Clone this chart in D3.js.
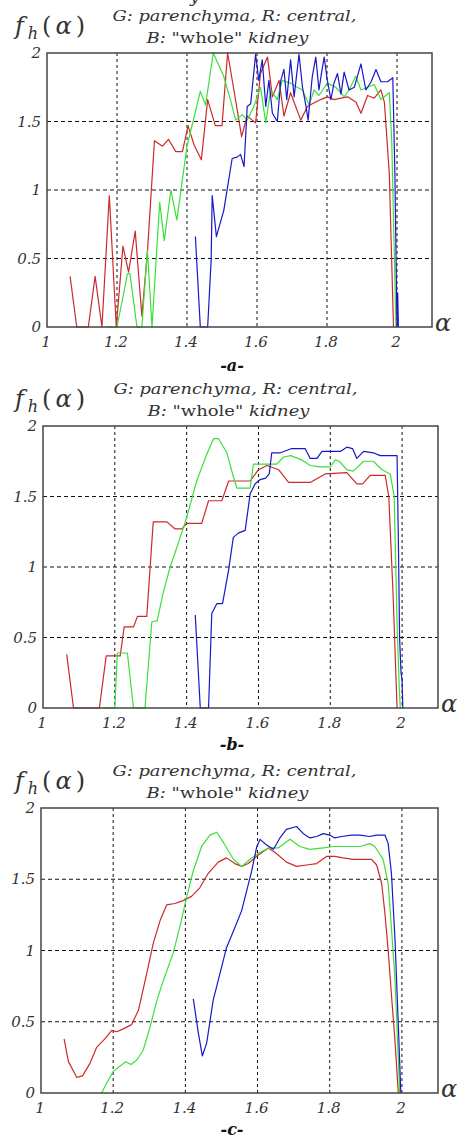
<!DOCTYPE html>
<html><head><meta charset="utf-8">
<script src="https://cdn.jsdelivr.net/npm/d3@7"></script>
<style>body{margin:0;background:#fff}svg{display:block}</style>
</head><body>
<script>
// ---------- data ----------
const xTicks = [1, 1.2, 1.4, 1.6, 1.8, 2];
const yTicks = [0, 0.5, 1, 1.5, 2];
const xGrid = [1.2, 1.4, 1.6, 1.8, 2];
const yGrid = [0.5, 1, 1.5];
const titleLine1 = "G: parenchyma, R: central,";
const panelLabels = ["-a-", "-b-", "-c-"];

// panel a
const redA = [[1.066,0.37],[1.085,0],[1.118,0],[1.1375,0.37],[1.157,0],[1.178,0.96],[1.198,0],[1.217,0.59],[1.233,0.40],[1.252,0.70],[1.271,0.08],[1.287,0.55],[1.307,1.36],[1.33,1.32],[1.347,1.37],[1.368,1.28],[1.387,1.28],[1.403,1.47],[1.42,1.33],[1.441,1.22],[1.459,1.66],[1.481,1.47],[1.50,1.47],[1.516,2.0],[1.534,1.73],[1.556,1.39],[1.572,1.54],[1.596,1.49],[1.61,1.85],[1.63,1.97],[1.644,1.68],[1.663,1.80],[1.677,1.54],[1.696,1.71],[1.725,1.51],[1.744,1.61],[1.758,1.63],[1.782,1.66],[1.801,1.68],[1.82,1.66],[1.84,1.67],[1.859,1.68],[1.883,1.64],[1.897,1.56],[1.916,1.69],[1.935,1.67],[1.954,1.73],[1.964,1.64],[1.978,1.12],[1.99,0]];
const greenA = [[1.171,0],[1.20,0],[1.23,0.39],[1.237,0.39],[1.257,0],[1.271,0],[1.287,0.56],[1.30,0],[1.322,0.91],[1.335,0.63],[1.354,1.0],[1.371,0.78],[1.40,1.32],[1.438,1.72],[1.453,1.62],[1.475,2.0],[1.505,1.83],[1.524,1.66],[1.539,1.51],[1.558,1.55],[1.572,1.51],[1.591,1.61],[1.61,1.75],[1.625,1.49],[1.639,1.73],[1.658,1.66],[1.672,1.80],[1.696,1.78],[1.715,1.75],[1.73,1.73],[1.749,1.62],[1.763,1.73],[1.777,1.69],[1.801,1.78],[1.825,1.75],[1.849,1.68],[1.863,1.73],[1.882,1.83],[1.897,1.73],[1.916,1.75],[1.935,1.77],[1.954,1.66],[1.978,1.71],[1.985,1.36],[1.997,0]];
const blueA = [[1.424,0.66],[1.438,0],[1.459,0],[1.469,0.49],[1.472,0.96],[1.484,0.66],[1.505,0.85],[1.529,1.23],[1.543,1.24],[1.553,1.26],[1.563,1.17],[1.572,1.61],[1.582,1.63],[1.596,1.99],[1.605,1.80],[1.615,1.95],[1.625,1.61],[1.634,1.80],[1.644,1.56],[1.658,1.50],[1.668,1.80],[1.677,1.88],[1.685,1.66],[1.696,1.95],[1.706,1.68],[1.72,1.99],[1.73,1.75],[1.74,1.61],[1.746,1.51],[1.758,1.83],[1.768,1.97],[1.777,1.73],[1.784,1.85],[1.792,1.97],[1.801,1.80],[1.811,1.66],[1.82,1.78],[1.83,1.85],[1.84,1.70],[1.849,1.86],[1.863,1.73],[1.878,1.75],[1.897,1.92],[1.911,1.73],[1.926,1.79],[1.94,1.88],[1.954,1.79],[1.973,1.79],[1.988,1.82],[1.994,1.12],[2.0,0],[2.002,0.25],[2.004,0]];

// panel b
const redB = [[1.066,0.38],[1.085,0],[1.157,0],[1.176,0.37],[1.215,0.37],[1.226,0.575],[1.252,0.575],[1.263,0.65],[1.289,0.65],[1.307,1.32],[1.345,1.32],[1.368,1.27],[1.387,1.27],[1.40,1.31],[1.442,1.31],[1.461,1.47],[1.498,1.47],[1.517,1.61],[1.577,1.61],[1.60,1.69],[1.624,1.72],[1.656,1.69],[1.684,1.60],[1.744,1.60],[1.786,1.66],[1.846,1.67],[1.874,1.59],[1.89,1.59],[1.911,1.65],[1.953,1.65],[1.963,1.50],[1.975,0.8],[1.986,0]];
const greenB = [[1.168,0],[1.20,0],[1.207,0.39],[1.235,0.39],[1.252,0],[1.284,0],[1.303,0.61],[1.318,0.62],[1.335,0.82],[1.354,1.0],[1.373,1.14],[1.40,1.35],[1.428,1.61],[1.456,1.80],[1.475,1.91],[1.489,1.91],[1.512,1.81],[1.53,1.64],[1.54,1.56],[1.577,1.56],[1.586,1.73],[1.651,1.73],[1.67,1.78],[1.69,1.79],[1.72,1.76],[1.744,1.72],[1.77,1.71],[1.80,1.71],[1.814,1.76],[1.825,1.75],[1.846,1.69],[1.864,1.68],[1.893,1.75],[1.92,1.75],[1.944,1.69],[1.967,1.66],[1.978,1.5],[1.986,0.6],[1.992,0.15],[1.995,0]];
const blueB = [[1.424,0.66],[1.438,0],[1.461,0],[1.47,0.67],[1.484,0.74],[1.50,0.74],[1.517,0.98],[1.53,1.21],[1.544,1.24],[1.563,1.26],[1.577,1.52],[1.591,1.59],[1.605,1.62],[1.62,1.63],[1.63,1.66],[1.637,1.81],[1.661,1.81],[1.693,1.84],[1.73,1.84],[1.744,1.77],[1.763,1.77],[1.777,1.82],[1.828,1.82],[1.846,1.85],[1.862,1.84],[1.874,1.77],[1.893,1.82],[1.92,1.81],[1.939,1.79],[1.986,1.79],[1.99,1.12],[1.993,0.5],[1.997,0.25],[2.0,0.2],[2.002,0]];

// panel c
const redC = [[1.064,0.38],[1.076,0.22],[1.099,0.11],[1.115,0.12],[1.136,0.21],[1.154,0.32],[1.177,0.38],[1.196,0.44],[1.21,0.43],[1.228,0.45],[1.251,0.48],[1.27,0.58],[1.293,0.84],[1.311,1.05],[1.33,1.21],[1.348,1.32],[1.371,1.33],[1.394,1.35],[1.417,1.38],[1.44,1.44],[1.463,1.54],[1.491,1.62],[1.514,1.65],[1.537,1.61],[1.556,1.59],[1.574,1.61],[1.602,1.67],[1.63,1.72],[1.648,1.69],[1.68,1.62],[1.708,1.59],[1.736,1.60],[1.764,1.61],[1.791,1.66],[1.814,1.66],[1.837,1.65],[1.865,1.64],[1.89,1.64],[1.916,1.64],[1.93,1.60],[1.944,1.47],[1.953,1.26],[1.962,1.0],[1.971,0.69],[1.981,0.36],[1.99,0]];
const greenC = [[1.168,0],[1.182,0.07],[1.20,0.15],[1.219,0.19],[1.235,0.22],[1.249,0.20],[1.265,0.23],[1.283,0.30],[1.302,0.46],[1.321,0.65],[1.339,0.79],[1.366,0.98],[1.385,1.17],[1.404,1.38],[1.422,1.56],[1.445,1.73],[1.468,1.81],[1.487,1.83],[1.505,1.76],[1.533,1.64],[1.556,1.59],[1.579,1.64],[1.607,1.69],[1.634,1.72],[1.657,1.72],[1.69,1.78],[1.717,1.73],[1.745,1.71],[1.782,1.72],[1.81,1.73],[1.85,1.73],[1.884,1.73],[1.911,1.75],[1.925,1.73],[1.948,1.64],[1.962,1.47],[1.971,1.16],[1.981,0.79],[1.988,0.36],[1.994,0]];
const blueC = [[1.422,0.66],[1.436,0.42],[1.447,0.26],[1.459,0.35],[1.477,0.65],[1.50,0.88],[1.514,1.02],[1.537,1.16],[1.556,1.28],[1.57,1.42],[1.584,1.56],[1.598,1.73],[1.607,1.78],[1.625,1.74],[1.644,1.71],[1.662,1.79],[1.68,1.85],[1.708,1.87],[1.727,1.82],[1.745,1.79],[1.764,1.80],[1.782,1.82],[1.80,1.81],[1.814,1.79],[1.833,1.80],[1.86,1.81],[1.884,1.81],[1.91,1.80],[1.93,1.81],[1.953,1.81],[1.962,1.75],[1.971,1.54],[1.981,1.07],[1.99,0.48],[1.997,0]];

// ---------- drawing ----------
const W = 457, H = 1141;
const svg = d3.select("body").append("svg").attr("width", W).attr("height", H);
const colors = {red: "#cc2a2a", green: "#3ae03a", blue: "#1818c8"};
const serif = "DejaVu Serif";

const panels = [
  {box: {l: 47, r: 432, t: 53, b: 327}, series: [redA, greenA, blueA], label: panelLabels[0], labelY: 371, tickDy: 20},
  {box: {l: 43, r: 438, t: 426, b: 708}, series: [redB, greenB, blueB], label: panelLabels[1], labelY: 750, tickDy: 20},
  {box: {l: 41, r: 438, t: 808, b: 1093}, series: [redC, greenC, blueC], label: panelLabels[2], labelY: 1135, tickDy: 20}
];
const seriesColors = [colors.red, colors.green, colors.blue];

// partial text fragment at the very top (cut off in the original too)
svg.append("text").attr("x", 190).attr("y", 2).attr("font-family", serif)
  .attr("font-style", "italic").attr("font-size", 16).attr("fill", "#333").text("y");

panels.forEach((p) => {
  const b = p.box;
  const x = d3.scaleLinear().domain([1, 2.1]).range([b.l, b.r]);
  const y = d3.scaleLinear().domain([0, 2]).range([b.b, b.t]);
  const g = svg.append("g");

  // titles
  const tx = (b.l + b.r) / 2 - 5;
  g.append("text").attr("x", tx).attr("y", b.t - 32)
    .attr("text-anchor", "middle").attr("font-family", serif).attr("font-style", "italic")
    .attr("font-size", 15).attr("fill", "#333")
    .attr("textLength", 244).attr("lengthAdjust", "spacingAndGlyphs").text(titleLine1);
  const t2 = g.append("text").attr("x", tx - 7).attr("y", b.t - 10)
    .attr("text-anchor", "middle").attr("font-family", serif)
    .attr("font-size", 15).attr("fill", "#333")
    .attr("textLength", 162).attr("lengthAdjust", "spacingAndGlyphs");
  t2.append("tspan").attr("font-style", "italic").text("B: ");
  t2.append("tspan").text("\"whole\" ");
  t2.append("tspan").attr("font-style", "italic").text("kidney");

  // f_h(alpha)
  const fl = g.append("text").attr("x", 15).attr("y", b.t - 19)
    .attr("font-family", serif).attr("font-size", 24).attr("fill", "#333")
    .attr("textLength", 70).attr("lengthAdjust", "spacing");
  fl.append("tspan").attr("font-style", "italic").text("f");
  fl.append("tspan").attr("font-style", "italic").attr("font-size", 16).attr("dy", 5).text("h");
  fl.append("tspan").attr("dy", -5).text("(");
  fl.append("tspan").attr("font-style", "italic").text("α");
  fl.append("tspan").text(")");

  // grid
  g.selectAll(".gx").data(xGrid).enter().append("line")
    .attr("x1", d => x(d)).attr("x2", d => x(d)).attr("y1", b.t).attr("y2", b.b)
    .attr("stroke", "#111").attr("stroke-width", 1).attr("stroke-dasharray", "3,3");
  g.selectAll(".gy").data(yGrid).enter().append("line")
    .attr("y1", d => y(d)).attr("y2", d => y(d)).attr("x1", b.l).attr("x2", b.r)
    .attr("stroke", "#111").attr("stroke-width", 1).attr("stroke-dasharray", "4,3");

  // lines
  const line = d3.line().x(d => x(d[0])).y(d => y(d[1]));
  p.series.forEach((s, i) => {
    g.append("path").datum(s).attr("d", line).attr("fill", "none")
      .attr("stroke", seriesColors[i]).attr("stroke-width", 1.2).attr("stroke-linejoin", "round");
  });

  // frame
  g.append("rect").attr("x", b.l).attr("y", b.t).attr("width", b.r - b.l).attr("height", b.b - b.t)
    .attr("fill", "none").attr("stroke", "#444").attr("stroke-width", 1.5);

  // tick labels
  g.selectAll(".xt").data(xTicks).enter().append("text")
    .attr("x", d => x(d) - 1).attr("y", b.b + p.tickDy).attr("text-anchor", "middle")
    .attr("font-family", serif).attr("font-style", "italic").attr("font-size", 15).attr("fill", "#333")
    .text(d => d3.format("")(d));
  g.selectAll(".yt").data(yTicks).enter().append("text")
    .attr("x", b.l - 6).attr("y", d => y(d) + 5).attr("text-anchor", "end")
    .attr("font-family", serif).attr("font-style", "italic").attr("font-size", 15).attr("fill", "#333")
    .text(d => d3.format("")(d));

  // alpha axis label
  g.append("text").attr("x", b.r + 3).attr("y", b.b + 4)
    .attr("font-family", serif).attr("font-style", "italic").attr("font-size", 24).attr("fill", "#333").text("α");

  // panel label
  g.append("text").attr("x", 232).attr("y", p.labelY).attr("text-anchor", "middle")
    .attr("font-family", serif).attr("font-style", "italic").attr("font-weight", "bold")
    .attr("font-size", 16).attr("fill", "#111").text(p.label);
});
</script>
</body></html>
